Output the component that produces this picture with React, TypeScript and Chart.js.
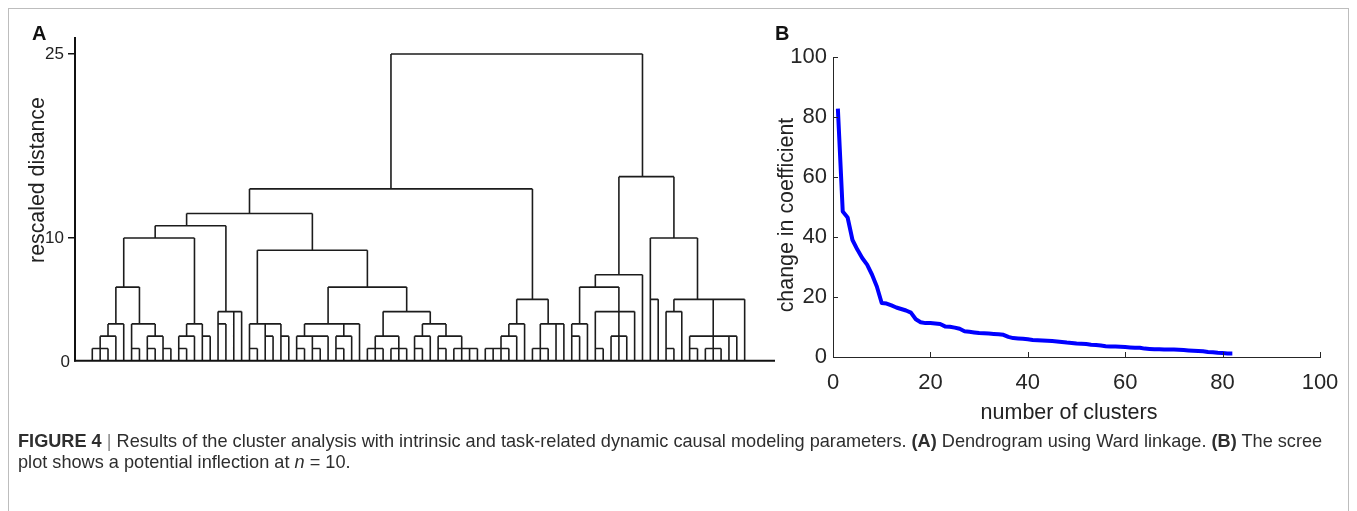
import React, { useEffect, useLayoutEffect, useRef } from 'react';
import { Chart, registerables } from 'chart.js';
Chart.register(...registerables);

// ---------- Panel A: dendrogram (Ward linkage, rescaled distance) ----------
// internal node = [height, ...children]; leaf = case index in display order
type TreeNode = number | TreeNode[];

const clusterC: TreeNode = [3, [2, [1, 0, 1, 2], 3], 4];
const clusterD: TreeNode = [3, [1, 5, 6], [2, [1, 7, 8], [1, 9, 10]]];
const clusterH: TreeNode = [3, [2, [1, 11, 12], 13], [2, 14, 15]];
const clusterG: TreeNode = [4, [3, 16, 17], 18, 19];
const clusterI: TreeNode = [3, [1, 20, 21], [3, [2, 22, 23], [2, 24, 25]]];
const clusterJ: TreeNode = [3, [2, [1, 26, 27], [2, [1, 28, 29], 30]], [3, [2, [1, 31, 32], 33], 34]];
const clusterM: TreeNode = [4, [2, [1, 35, 36, 37], [1, 38, 39, 40]], [3, [2, [1, 41, 42], 43], [2, [1, 44, 45], [1, 46, 47, 48, 49]]]];
const clusterS: TreeNode = [5, [3, [2, [1, [1, [1, 50, 51], 52], 53], 54], 55], [3, [1, 56, 57, 58], 59, 60]];
const clusterN: TreeNode = [6, [3, [2, 61, 62], 63], [4, [4, [1, 64, 65], [2, 66, 67, 68]], 69]];
const clusterQ: TreeNode = [4, [1, 73, 74], 75];
const clusterR: TreeNode = [2, [2, [1, 76, 77], [1, 78, 79, 80]], 81, 82];

const leftBranch: TreeNode = [14, [12, [11, [10, [6, clusterC, clusterD], clusterH], clusterG], [9, clusterI, [6, clusterJ, clusterM]]], clusterS];
const rightBranch: TreeNode = [15, [7, clusterN, 70], [10, [5, 71, 72], [5, clusterQ, [5, clusterR, 83]]]];
const dendrogramRoot: TreeNode = [25, leftBranch, rightBranch];
const dendroTicks = [0, 10, 25];

// ---------- Panel B: scree plot ----------
const clusterCounts = [
  1, 2, 3, 4, 5, 6, 7, 8, 9, 10, 11, 12, 13, 14, 15, 16, 17, 18, 19, 20,
  21, 22, 23, 24, 25, 26, 27, 28, 29, 30, 31, 32, 33, 34, 35, 36, 37, 38, 39, 40,
  41, 42, 43, 44, 45, 46, 47, 48, 49, 50, 51, 52, 53, 54, 55, 56, 57, 58, 59, 60,
  61, 62, 63, 64, 65, 66, 67, 68, 69, 70, 71, 72, 73, 74, 75, 76, 77, 78, 79, 80,
  81, 82,
];
const coefficientChange = [
  82.8, 48.5, 46.5, 39.0, 35.8, 33.0, 30.8, 27.5, 23.5, 18.0,
  17.8, 17.2, 16.5, 16.0, 15.5, 14.8, 12.6, 11.6, 11.3, 11.3,
  11.2, 11.0, 10.2, 10.1, 9.8, 9.4, 8.6, 8.4, 8.2, 8.0,
  7.9, 7.8, 7.7, 7.6, 7.4, 6.7, 6.3, 6.2, 6.1, 5.9,
  5.7, 5.6, 5.5, 5.4, 5.3, 5.2, 5.0, 4.8, 4.7, 4.5,
  4.4, 4.3, 4.1, 4.0, 3.8, 3.6, 3.5, 3.5, 3.4, 3.3,
  3.2, 3.1, 3.1, 2.8, 2.7, 2.6, 2.6, 2.5, 2.5, 2.5,
  2.4, 2.3, 2.2, 2.1, 2.0, 1.9, 1.7, 1.6, 1.4, 1.3,
  1.2, 1.2,
];
const screeXTicks = [0, 20, 40, 60, 80, 100];
const screeYTicks = [0, 20, 40, 60, 80, 100];

const FONT = '"Liberation Sans", Arial, Helvetica, sans-serif';

type Pt = { x: number; y: number | null };

function buildSegments(node: TreeNode, out: Pt[]): { stem: number; h: number } {
  if (typeof node === 'number') return { stem: node, h: 0 };
  const h = node[0] as number;
  const kids = (node.slice(1) as TreeNode[]).map((k) => buildSegments(k, out));
  const stems = kids.map((k) => k.stem);
  const lo = Math.min(...stems);
  const hi = Math.max(...stems);
  kids.forEach((k) => {
    out.push({ x: k.stem, y: k.h }, { x: k.stem, y: h }, { x: k.stem, y: null });
  });
  out.push({ x: lo, y: h }, { x: hi, y: h }, { x: hi, y: null });
  return { stem: Math.floor((lo + hi) / 2), h };
}

const baselinePlugin = {
  id: 'baseline',
  afterDatasetsDraw(chart: any) {
    const { ctx, chartArea, scales } = chart;
    ctx.save();
    ctx.strokeStyle = '#111';
    ctx.lineWidth = 2;
    ctx.beginPath();
    ctx.moveTo(chartArea.left - 1, chartArea.bottom);
    ctx.lineTo(chartArea.right, chartArea.bottom);
    ctx.stroke();
    // zero label sits closer to the axis (no tick mark at 0)
    ctx.fillStyle = '#222';
    ctx.font = `17px ${FONT}`;
    ctx.textAlign = 'right';
    ctx.textBaseline = 'middle';
    ctx.fillText(String(dendroTicks[0]), chartArea.left - 5, scales.y.getPixelForValue(dendroTicks[0]) + 2);
    ctx.restore();
  },
};

const innerTicksPlugin = {
  id: 'innerTicks',
  afterDatasetsDraw(chart: any) {
    const { ctx, chartArea, scales } = chart;
    ctx.save();
    ctx.strokeStyle = '#262626';
    ctx.lineWidth = 1;
    ctx.beginPath();
    screeXTicks.forEach((v) => {
      const px = Math.round(scales.x.getPixelForValue(v)) + 0.5;
      ctx.moveTo(px, chartArea.bottom);
      ctx.lineTo(px, chartArea.bottom - 5);
    });
    screeYTicks.forEach((v) => {
      const py = Math.round(scales.y.getPixelForValue(v)) + 0.5;
      ctx.moveTo(chartArea.left, py);
      ctx.lineTo(chartArea.left + 5, py);
    });
    ctx.stroke();
    ctx.restore();
  },
};

function Dendrogram() {
  const ref = useRef<HTMLCanvasElement>(null);
  useEffect(() => {
    const segs: Pt[] = [];
    buildSegments(dendrogramRoot, segs);
    const chart = new Chart(ref.current as HTMLCanvasElement, {
      type: 'scatter',
      data: {
        datasets: [
          {
            data: segs as any,
            showLine: true,
            borderColor: '#1c1c1c',
            borderWidth: 1.6,
            pointRadius: 0,
            spanGaps: false,
            tension: 0,
          } as any,
        ],
      },
      options: {
        animation: false,
        responsive: false,
        events: [],
        layout: { padding: { top: 38, right: 25, bottom: 59.3, left: 0 } },
        plugins: { legend: { display: false }, tooltip: { enabled: false } },
        scales: {
          x: { type: 'linear', min: -2.2, max: 86.86, display: false },
          y: {
            type: 'linear',
            min: 0,
            max: 26.3,
            afterFit: (s: any) => {
              s.width = 75;
            },
            afterBuildTicks: (s: any) => {
              s.ticks = dendroTicks.map((v) => ({ value: v }));
            },
            ticks: {
              font: { family: FONT, size: 17 },
              color: '#222',
              padding: 4,
              callback: (v: any) => (v === 0 ? '' : String(v)),
            },
            grid: {
              drawOnChartArea: false,
              drawTicks: true,
              tickLength: 7,
              lineWidth: 1.5,
              color: (c: any) => (c.tick && c.tick.value === 0 ? 'rgba(0,0,0,0)' : '#111'),
            },
            border: { display: true, color: '#111', width: 2 },
          },
        },
      } as any,
      plugins: [baselinePlugin],
    });
    return () => chart.destroy();
  }, []);
  return (
    <canvas
      ref={ref}
      width={800}
      height={420}
      style={{ position: 'absolute', left: 0, top: 0, width: 800, height: 420 }}
    />
  );
}

function Scree() {
  const ref = useRef<HTMLCanvasElement>(null);
  useEffect(() => {
    const chart = new Chart(ref.current as HTMLCanvasElement, {
      type: 'line',
      data: {
        datasets: [
          {
            data: clusterCounts.map((c, i) => ({ x: c, y: coefficientChange[i] })),
            borderColor: '#0000ff',
            borderWidth: 4,
            pointRadius: 0,
            tension: 0,
            fill: false,
            borderJoinStyle: 'round',
          } as any,
        ],
      },
      options: {
        animation: false,
        responsive: false,
        events: [],
        layout: { padding: { top: 37, right: 37, bottom: 0, left: 0 } },
        plugins: { legend: { display: false }, tooltip: { enabled: false } },
        scales: {
          x: {
            type: 'linear',
            min: 0,
            max: 100,
            afterFit: (s: any) => {
              s.height = 83;
            },
            afterBuildTicks: (s: any) => {
              s.ticks = screeXTicks.map((v) => ({ value: v }));
            },
            ticks: { font: { family: FONT, size: 22 }, color: '#262626', padding: 13, maxRotation: 0 },
            grid: { display: false, drawTicks: false },
            border: { display: true, color: '#262626', width: 1 },
          },
          y: {
            type: 'linear',
            min: 0,
            max: 100,
            afterFit: (s: any) => {
              s.width = 63;
            },
            afterBuildTicks: (s: any) => {
              s.ticks = screeYTicks.map((v) => ({ value: v }));
            },
            ticks: { font: { family: FONT, size: 22 }, color: '#262626', padding: 6 },
            grid: { display: false, drawTicks: false },
            border: { display: true, color: '#262626', width: 1 },
          },
        },
      } as any,
      plugins: [innerTicksPlugin],
    });
    return () => chart.destroy();
  }, []);
  return (
    <canvas
      ref={ref}
      width={587}
      height={420}
      style={{ position: 'absolute', left: 770, top: 20, width: 587, height: 420 }}
    />
  );
}

function RotLabel({ text, cx, cy, size }: { text: string; cx: number; cy: number; size: number }) {
  return (
    <div
      style={{
        position: 'absolute',
        left: cx,
        top: cy,
        transform: 'translate(-50%, -50%) rotate(-90deg)',
        whiteSpace: 'nowrap',
        fontFamily: FONT,
        fontSize: size,
        color: '#222',
        lineHeight: 1,
      }}
    >
      {text}
    </div>
  );
}

function Caption() {
  const l1 = useRef<HTMLDivElement>(null);
  const l2 = useRef<HTMLDivElement>(null);
  useLayoutEffect(() => {
    const a = l1.current;
    const b = l2.current;
    if (!a || !b) return;
    const w = a.scrollWidth;
    const k = 1304 / w;
    a.style.transform = `scaleX(${k})`;
    b.style.transform = `scaleX(${k})`;
  }, []);
  const base: React.CSSProperties = {
    position: 'absolute',
    left: 18,
    whiteSpace: 'nowrap',
    fontFamily: FONT,
    fontSize: 18.5,
    lineHeight: '22px',
    color: '#2e2e2e',
    transformOrigin: '0 0',
  };
  return (
    <>
      <div ref={l1} style={{ ...base, top: 430 }}>
        <b>FIGURE 4</b> <span style={{ color: '#888' }}>|</span> Results of the cluster analysis with intrinsic and
        task-related dynamic causal modeling parameters. <b>(A)</b> Dendrogram using Ward linkage. <b>(B)</b> The scree
      </div>
      <div ref={l2} style={{ ...base, top: 451 }}>
        plot shows a potential inflection at <i>n</i> = 10.
      </div>
    </>
  );
}

export default function App() {
  return (
    <div style={{ position: 'absolute', left: 0, top: 0, width: 1357, height: 511, overflow: 'hidden', background: '#fff' }}>
      <div
        style={{
          position: 'absolute',
          left: 8,
          top: 8,
          width: 1341,
          height: 540,
          border: '1px solid #bdbdbd',
          boxSizing: 'border-box',
        }}
      />
      <Dendrogram />
      <Scree />
      <div style={{ position: 'absolute', left: 32, top: 22, fontFamily: FONT, fontWeight: 'bold', fontSize: 20, color: '#111' }}>A</div>
      <div style={{ position: 'absolute', left: 775, top: 22, fontFamily: FONT, fontWeight: 'bold', fontSize: 20, color: '#111' }}>B</div>
      <RotLabel text="rescaled distance" cx={38} cy={180} size={21.3} />
      <RotLabel text="change in coefficient" cx={787} cy={215} size={21.4} />
      <div
        style={{
          position: 'absolute',
          left: 1069,
          top: 413,
          transform: 'translate(-50%, -50%)',
          whiteSpace: 'nowrap',
          fontFamily: FONT,
          fontSize: 21.5,
          color: '#222',
          lineHeight: 1,
        }}
      >
        number of clusters
      </div>
      <Caption />
    </div>
  );
}
